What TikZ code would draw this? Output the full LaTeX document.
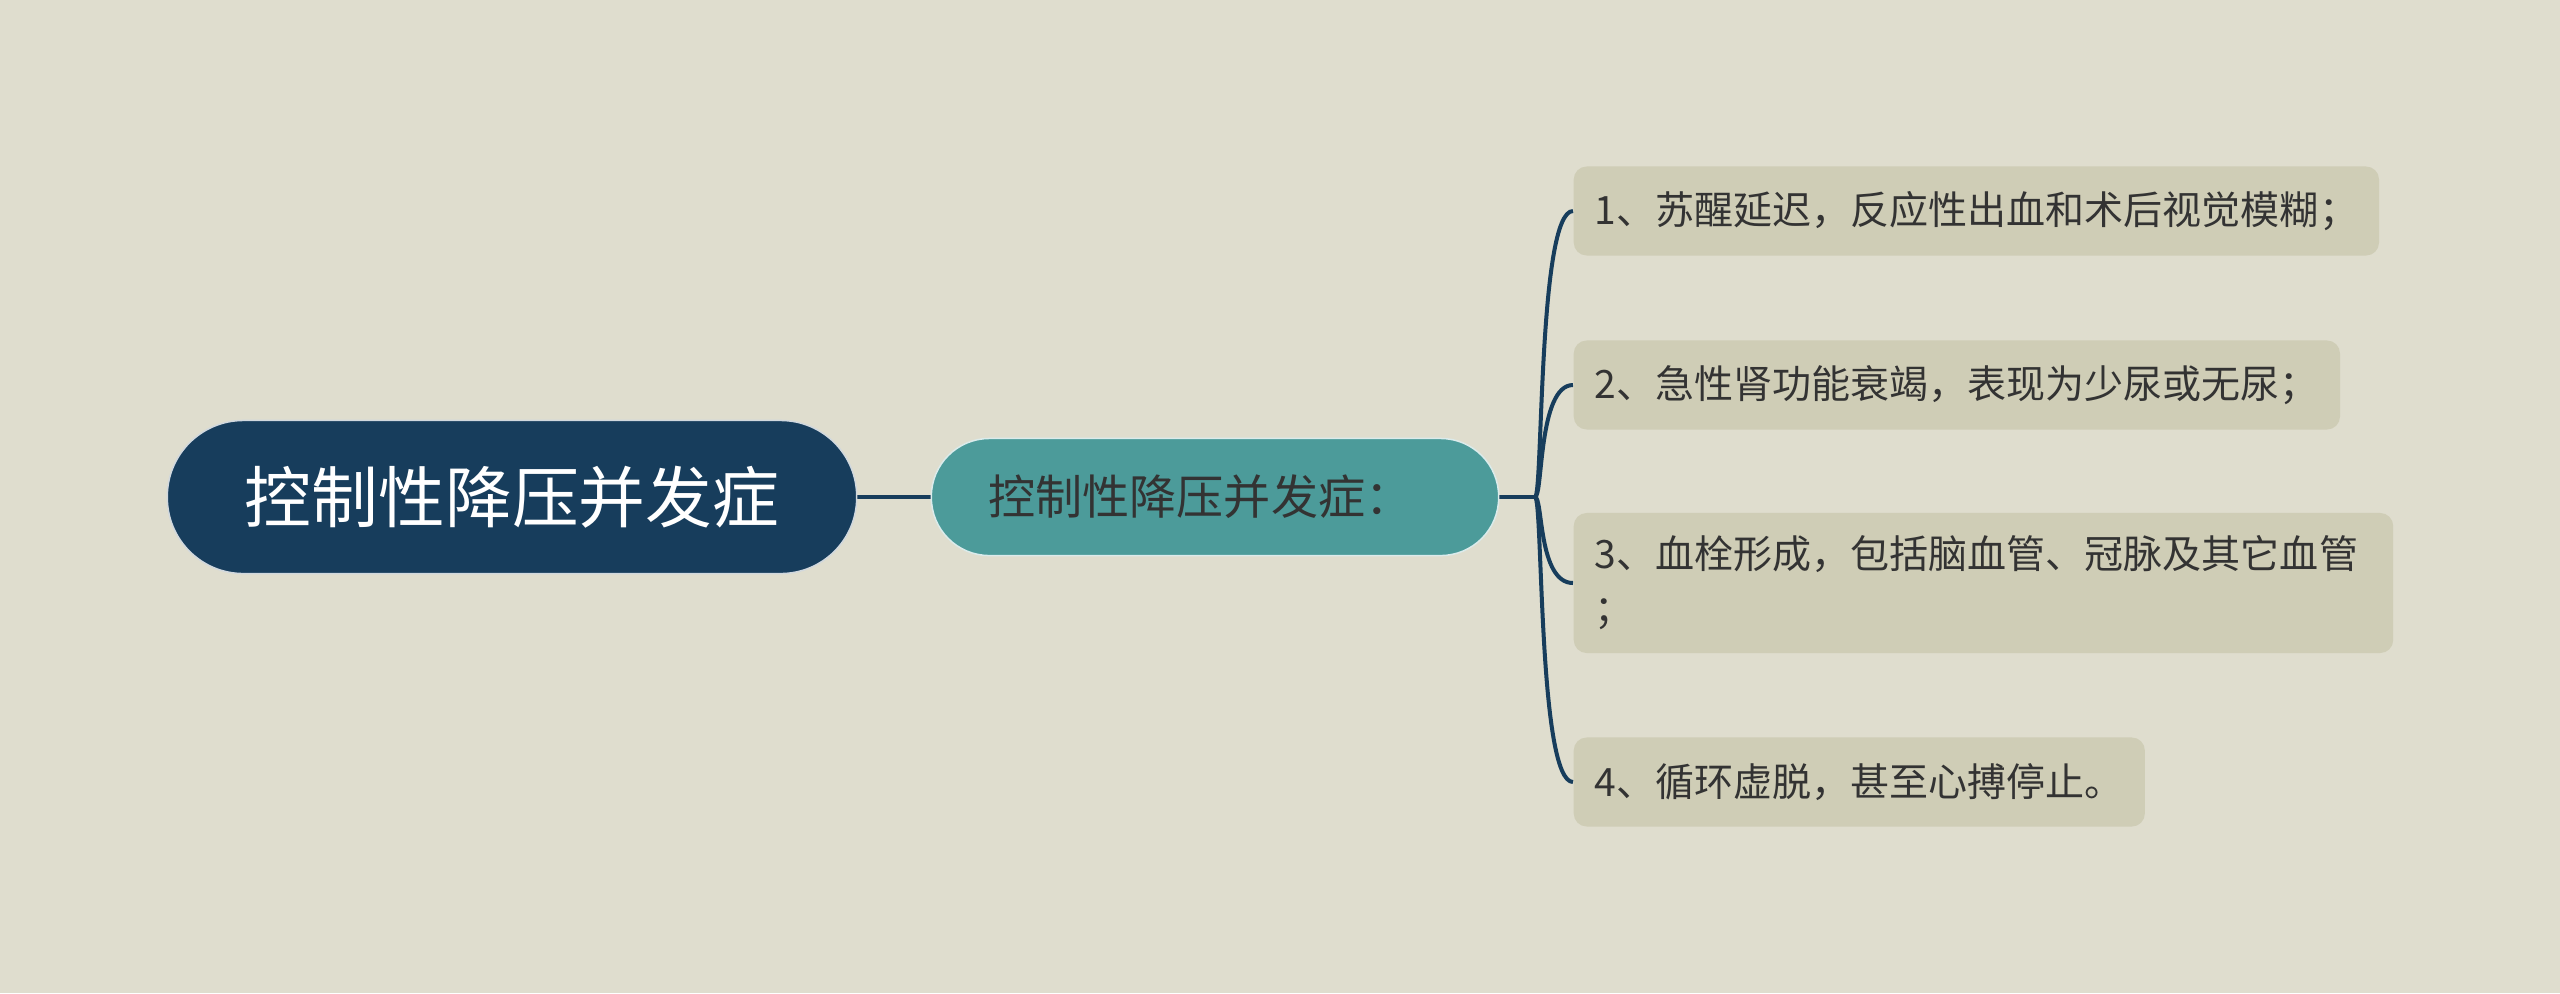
\documentclass[tikz,border=0pt]{standalone}
\usepackage{fontspec}
\setmainfont{Noto Sans CJK SC}
\usepackage{tikz}
\definecolor{bgcream}{HTML}{DFDDCE}
\definecolor{navy}{HTML}{173D5C}
\definecolor{midteal}{HTML}{4C9B9A}
\definecolor{leafgray}{HTML}{CFCDB6}
\definecolor{inkgray}{HTML}{333333}
\tikzset{
    every node/.style={inner sep=0pt, text=inkgray}
}
\tikzset{
    rootnode/.style={rectangle, rounded corners=0.76cm, fill=navy,
        draw=white!80!navy, line width=0.015cm, minimum width=6.89cm,
        minimum height=1.53cm, text=white,
        font=\fontsize{19pt}{23pt}\selectfont},
    midnode/.style={rectangle, rounded corners=0.58cm, fill=midteal,
        draw=white!80!midteal, line width=0.015cm, minimum height=1.17cm,
        text width=4.53cm, inner xsep=0.57cm, align=left,
        font=\fontsize{13.4pt}{16pt}\selectfont},
    leafnode/.style={rectangle, rounded corners=0.13cm, fill=leafgray,
        anchor=west, minimum height=0.89cm, inner xsep=0.21cm, align=left,
        font=\fontsize{11.1pt}{15.6pt}\selectfont}
}
\tikzset{
    branch/.style={draw=navy, line width=0.04cm}
}
\pgfdeclarelayer{background}
\pgfsetlayers{background,main}
\begin{document}
\begin{tikzpicture}[x=0.01cm, y=-0.01cm]
  \useasboundingbox (0,0) rectangle (2560,993);

  \node (root) [rootnode] at (512, 497) {控制性降压并发症};
  \node (mid) [midnode] at (1215, 497) {控制性降压并发症：};
  \coordinate (junc) at (1535, 497);

  \node (l1) [leafnode] at (1573, 211) {1、苏醒延迟，反应性出血和术后视觉模糊；};
  \node (l2) [leafnode] at (1573, 385) {2、急性肾功能衰竭，表现为少尿或无尿；};
  \node (l3) [leafnode, minimum height=1.40cm, text width=7.77cm] at (1573, 583)
      {3、血栓形成，包括脑血管、冠脉及其它血管\\；};
  \node (l4) [leafnode] at (1573, 782) {4、循环虚脱，甚至心搏停止。};

  \begin{pgfonlayer}{background}
    \fill[bgcream] (0,0) rectangle (2560,993);
    \draw[branch] (root) -- (mid);
    \draw[branch] (mid) -- (junc);
    \draw[branch] (junc) .. controls +(8,0) and +(-35,0) .. (l1.west);
    \draw[branch] (junc) .. controls +(8,0) and +(-35,0) .. (l2.west);
    \draw[branch] (junc) .. controls +(8,0) and +(-35,0) .. (l3.west);
    \draw[branch] (junc) .. controls +(8,0) and +(-35,0) .. (l4.west);
  \end{pgfonlayer}
\end{tikzpicture}
\end{document}
